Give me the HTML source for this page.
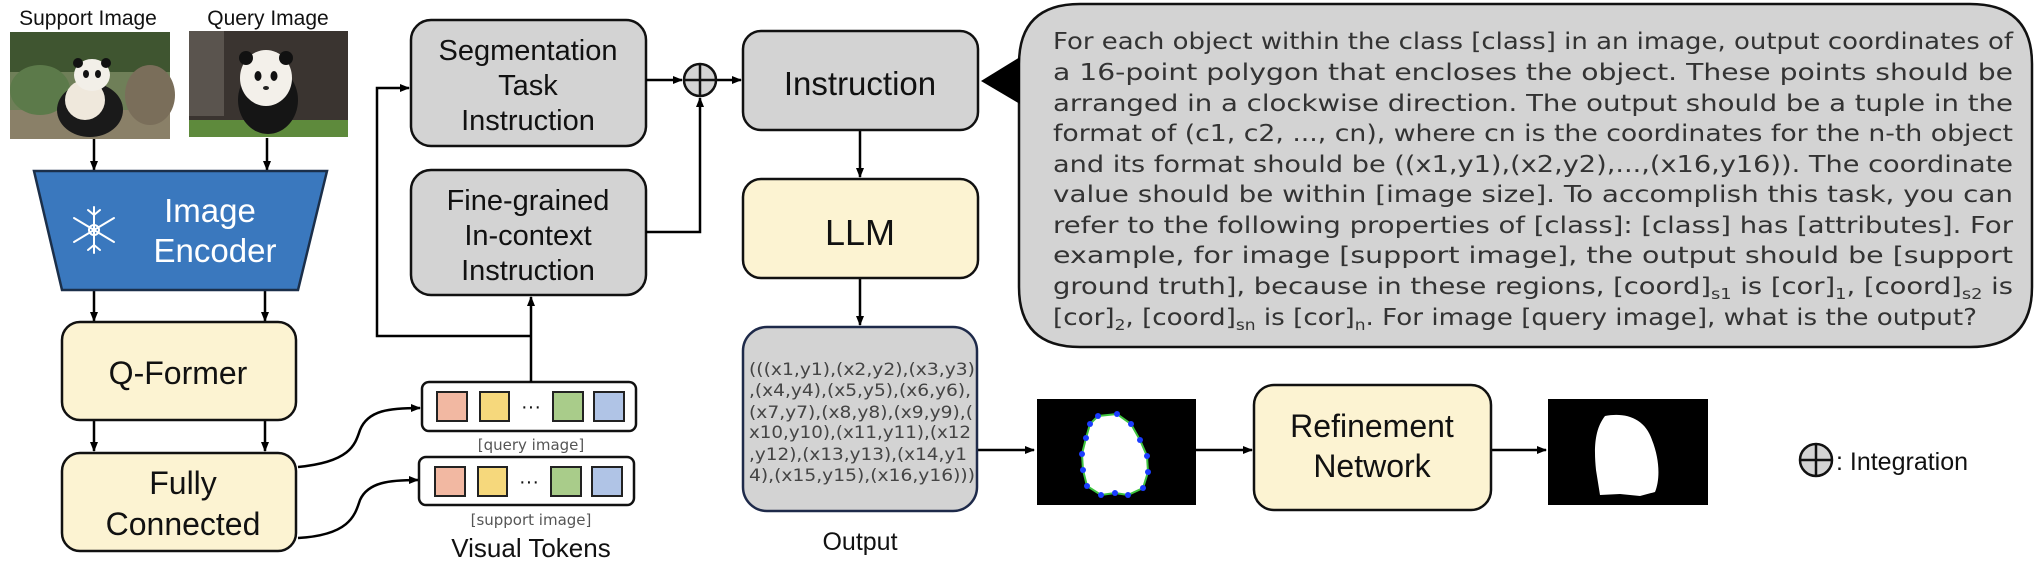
<!DOCTYPE html>
<html><head><meta charset="utf-8"><style>
html,body{margin:0;padding:0;background:#fff;}
svg{display:block;}
.l{font-family:"Liberation Sans",Arial,sans-serif;fill:#111;}
.v{font-family:"DejaVu Sans",Verdana,sans-serif;}
</style></head><body>
<svg width="2040" height="564" viewBox="0 0 2040 564" xmlns="http://www.w3.org/2000/svg">
<defs>
<marker id="ah" markerWidth="10" markerHeight="10" refX="9" refY="5" orient="auto" markerUnits="userSpaceOnUse">
<path d="M0,1 L10,5 L0,9 z" fill="#000"/></marker>
</defs>

<text class="l" x="88" y="25" font-size="21" text-anchor="middle">Support Image</text>
<text class="l" x="268" y="25" font-size="21" text-anchor="middle">Query Image</text>

<g>
<rect x="10" y="32" width="160" height="107" fill="#6f7f58"/>
<rect x="10" y="32" width="160" height="40" fill="#3f5530"/>
<rect x="10" y="110" width="160" height="29" fill="#8a8068"/>
<ellipse cx="40" cy="90" rx="30" ry="25" fill="#5c7a4a"/>
<ellipse cx="150" cy="95" rx="25" ry="30" fill="#7a6e5a"/>
<ellipse cx="90" cy="110" rx="33" ry="27" fill="#1a1a1a"/>
<ellipse cx="85" cy="100" rx="20" ry="20" fill="#efe8dc"/>
<ellipse cx="92" cy="75" rx="18" ry="16" fill="#f2efe8"/>
<circle cx="78" cy="63" r="5" fill="#111"/><circle cx="106" cy="63" r="5" fill="#111"/>
<ellipse cx="86" cy="74" rx="3" ry="4" fill="#111"/><ellipse cx="98" cy="74" rx="3" ry="4" fill="#111"/>
</g>
<g>
<rect x="189" y="31" width="159" height="106" fill="#3a3430"/>
<rect x="189" y="31" width="35" height="85" fill="#5a544e"/>
<rect x="189" y="120" width="159" height="17" fill="#5e8a3c"/>
<ellipse cx="268" cy="100" rx="30" ry="34" fill="#151515"/>
<ellipse cx="266" cy="78" rx="26" ry="28" fill="#f3f0ea"/>
<circle cx="246" cy="58" r="7" fill="#111"/><circle cx="286" cy="58" r="7" fill="#111"/>
<ellipse cx="258" cy="76" rx="3.5" ry="5" fill="#111"/><ellipse cx="274" cy="76" rx="3.5" ry="5" fill="#111"/>
<ellipse cx="266" cy="88" rx="3" ry="2" fill="#222"/>
</g>

<g stroke="#000" stroke-width="2.5" fill="none" marker-end="url(#ah)">
<line x1="94" y1="139" x2="94" y2="170"/>
<line x1="267" y1="138" x2="267" y2="170"/>
<line x1="94" y1="290" x2="94" y2="321"/>
<line x1="265" y1="290" x2="265" y2="321"/>
<line x1="94" y1="420" x2="94" y2="451"/>
<line x1="265" y1="420" x2="265" y2="451"/>
</g>

<polygon points="34,171 327,171 298,290 62,290" fill="#3a78be" stroke="#1b2f4a" stroke-width="2.5"/>
<g stroke="#fff" stroke-width="2" fill="none" stroke-linecap="round">
<line x1="94" y1="207" x2="94" y2="253"/>
<line x1="74" y1="218" x2="114" y2="242"/>
<line x1="74" y1="242" x2="114" y2="218"/>
<circle cx="94" cy="230" r="5"/>
<path d="M88,210 L94,215 L100,210 M88,250 L94,245 L100,250"/>
</g>
<text class="l" x="210" y="222" font-size="33" style="fill:#fff" text-anchor="middle">Image</text>
<text class="l" x="215" y="262" font-size="33" style="fill:#fff" text-anchor="middle">Encoder</text>

<rect x="62" y="322" width="234" height="98" rx="18" fill="#fcf3d2" stroke="#111" stroke-width="2.5"/>
<text class="l" x="178" y="384" font-size="32" text-anchor="middle">Q-Former</text>
<rect x="62" y="453" width="234" height="98" rx="18" fill="#fcf3d2" stroke="#111" stroke-width="2.5"/>
<text class="l" x="183" y="494" font-size="32" text-anchor="middle">Fully</text>
<text class="l" x="183" y="535" font-size="32" text-anchor="middle">Connected</text>

<g stroke="#000" stroke-width="2.5" fill="none" marker-end="url(#ah)">
<path d="M298,467 C350,462 355,445 360,430 C368,410 390,408 420,408"/>
<path d="M298,538 C350,535 355,515 360,500 C368,482 390,480 418,480"/>
</g>

<rect x="422" y="382" width="214" height="49" rx="7" fill="#fff" stroke="#111" stroke-width="2.5"/>
<rect x="437" y="392" width="30" height="29" fill="#f2b8a2" stroke="#222" stroke-width="2"/>
<rect x="480" y="392" width="29" height="29" fill="#f6d87c" stroke="#222" stroke-width="2"/>
<text class="l" x="531" y="413" font-size="20" text-anchor="middle">···</text>
<rect x="553" y="392" width="30" height="29" fill="#a9cc8a" stroke="#222" stroke-width="2"/>
<rect x="594" y="392" width="30" height="29" fill="#b0c4e6" stroke="#222" stroke-width="2"/>
<text class="v" x="531" y="450" font-size="15" fill="#555" text-anchor="middle">[query image]</text>

<rect x="419" y="457" width="215" height="48" rx="7" fill="#fff" stroke="#111" stroke-width="2.5"/>
<rect x="435" y="467" width="30" height="29" fill="#f2b8a2" stroke="#222" stroke-width="2"/>
<rect x="478" y="467" width="29" height="29" fill="#f6d87c" stroke="#222" stroke-width="2"/>
<text class="l" x="529" y="488" font-size="20" text-anchor="middle">···</text>
<rect x="551" y="467" width="30" height="29" fill="#a9cc8a" stroke="#222" stroke-width="2"/>
<rect x="592" y="467" width="30" height="29" fill="#b0c4e6" stroke="#222" stroke-width="2"/>
<text class="v" x="531" y="525" font-size="15" fill="#555" text-anchor="middle">[support image]</text>
<text class="l" x="531" y="557" font-size="26" text-anchor="middle">Visual Tokens</text>

<rect x="411" y="20" width="235" height="126" rx="20" fill="#d3d3d3" stroke="#111" stroke-width="2.5"/>
<text class="l" x="528" y="60" font-size="29" text-anchor="middle">Segmentation</text>
<text class="l" x="528" y="95" font-size="29" text-anchor="middle">Task</text>
<text class="l" x="528" y="130" font-size="29" text-anchor="middle">Instruction</text>
<rect x="411" y="170" width="235" height="125" rx="20" fill="#d3d3d3" stroke="#111" stroke-width="2.5"/>
<text class="l" x="528" y="210" font-size="29" text-anchor="middle">Fine-grained</text>
<text class="l" x="528" y="245" font-size="29" text-anchor="middle">In-context</text>
<text class="l" x="528" y="280" font-size="29" text-anchor="middle">Instruction</text>

<g stroke="#000" stroke-width="2.5" fill="none">
<line x1="531" y1="382" x2="531" y2="297" marker-end="url(#ah)"/>
<polyline points="531,336 377,336 377,88 409,88" marker-end="url(#ah)"/>
<line x1="646" y1="80" x2="682" y2="80" marker-end="url(#ah)"/>
<polyline points="646,232 700,232 700,98" marker-end="url(#ah)"/>
<line x1="716" y1="80" x2="741" y2="80" marker-end="url(#ah)"/>
<line x1="860" y1="130" x2="860" y2="177" marker-end="url(#ah)"/>
<line x1="860" y1="278" x2="860" y2="325" marker-end="url(#ah)"/>
<line x1="977" y1="450" x2="1034" y2="450" marker-end="url(#ah)"/>
<line x1="1196" y1="450" x2="1252" y2="450" marker-end="url(#ah)"/>
<line x1="1491" y1="450" x2="1546" y2="450" marker-end="url(#ah)"/>
</g>
<circle cx="700" cy="80" r="16" fill="#d3d3d3" stroke="#111" stroke-width="2.5"/>
<line x1="684" y1="80" x2="716" y2="80" stroke="#111" stroke-width="2.5"/>
<line x1="700" y1="64" x2="700" y2="96" stroke="#111" stroke-width="2.5"/>

<rect x="743" y="31" width="235" height="99" rx="18" fill="#d3d3d3" stroke="#111" stroke-width="2.5"/>
<text class="l" x="860" y="95" font-size="33" text-anchor="middle">Instruction</text>
<rect x="743" y="179" width="235" height="99" rx="18" fill="#fcf3d2" stroke="#111" stroke-width="2.5"/>
<text class="l" x="860" y="245" font-size="36" text-anchor="middle">LLM</text>

<rect x="743" y="327" width="234" height="184" rx="24" fill="#d3d3d3" stroke="#1e2a4a" stroke-width="2.5"/>
<g font-family="DejaVu Sans, Verdana, sans-serif" font-size="16.5" fill="#444">
<text x="749" y="375" textLength="226" lengthAdjust="spacingAndGlyphs">(((x1,y1),(x2,y2),(x3,y3)</text>
<text x="749" y="396" textLength="222" lengthAdjust="spacingAndGlyphs">,(x4,y4),(x5,y5),(x6,y6),</text>
<text x="749" y="418" textLength="224" lengthAdjust="spacingAndGlyphs">(x7,y7),(x8,y8),(x9,y9),(</text>
<text x="749" y="438" textLength="222" lengthAdjust="spacingAndGlyphs">x10,y10),(x11,y11),(x12</text>
<text x="749" y="460" textLength="218" lengthAdjust="spacingAndGlyphs">,y12),(x13,y13),(x14,y1</text>
<text x="749" y="481" textLength="226" lengthAdjust="spacingAndGlyphs">4),(x15,y15),(x16,y16)))</text>
</g>
<text class="l" x="860" y="550" font-size="25" text-anchor="middle">Output</text>

<rect x="1037" y="399" width="159" height="106" fill="#000"/>
<polygon points="1098,416 1117,414 1131,424 1140,440 1147,456 1148,472 1143,488 1128,495 1115,493 1101,495 1087,486 1083,470 1082,454 1086,438 1090,424" fill="#fff" stroke="#3ec43e" stroke-width="2"/>
<g fill="#1a3cff">
<circle cx="1098" cy="416" r="3"/><circle cx="1117" cy="414" r="3"/><circle cx="1131" cy="424" r="3"/><circle cx="1140" cy="440" r="3"/><circle cx="1147" cy="456" r="3"/><circle cx="1148" cy="472" r="3"/><circle cx="1143" cy="488" r="3"/><circle cx="1128" cy="495" r="3"/><circle cx="1115" cy="493" r="3"/><circle cx="1101" cy="495" r="3"/><circle cx="1087" cy="486" r="3"/><circle cx="1083" cy="470" r="3"/><circle cx="1082" cy="454" r="3"/><circle cx="1086" cy="438" r="3"/><circle cx="1090" cy="424" r="3"/></g>

<rect x="1254" y="385" width="237" height="125" rx="20" fill="#fcf3d2" stroke="#111" stroke-width="2.5"/>
<text class="l" x="1372" y="437" font-size="32" text-anchor="middle">Refinement</text>
<text class="l" x="1372" y="477" font-size="32" text-anchor="middle">Network</text>

<rect x="1548" y="399" width="160" height="106" fill="#000"/>
<path d="M1605,416 C1625,412 1645,418 1652,440 C1660,460 1660,480 1655,492 L1640,496 L1620,494 L1600,495 L1596,470 C1594,450 1594,430 1605,416 Z" fill="#fff"/>

<circle cx="1816" cy="460" r="16" fill="#d3d3d3" stroke="#111" stroke-width="2.5"/>
<line x1="1800" y1="460" x2="1832" y2="460" stroke="#111" stroke-width="2.5"/>
<line x1="1816" y1="444" x2="1816" y2="476" stroke="#111" stroke-width="2.5"/>
<text class="l" x="1836" y="470" font-size="25">: Integration</text>

<path d="M1080,4 L1970,4 Q2032,4 2032,64 L2032,287 Q2032,347 1970,347 L1080,347 Q1019,347 1019,287 L1019,64 Q1019,4 1080,4 Z" fill="#d3d3d3" stroke="#111" stroke-width="2.5"/>
<polygon points="981,81 1020,57 1020,104" fill="#000"/>
<g font-family="DejaVu Sans, Verdana, sans-serif" font-size="23" fill="#333">
<text x="1053" y="49" textLength="960" lengthAdjust="spacingAndGlyphs">For each object within the class [class] in an image, output coordinates of</text>
<text x="1053" y="80" textLength="960" lengthAdjust="spacingAndGlyphs">a 16-point polygon that encloses the object. These points should be</text>
<text x="1053" y="111" textLength="960" lengthAdjust="spacingAndGlyphs">arranged in a clockwise direction. The output should be a tuple in the</text>
<text x="1053" y="141" textLength="960" lengthAdjust="spacingAndGlyphs">format of (c1, c2, ..., cn), where cn is the coordinates for the n-th object</text>
<text x="1053" y="172" textLength="960" lengthAdjust="spacingAndGlyphs">and its format should be ((x1,y1),(x2,y2),...,(x16,y16)). The coordinate</text>
<text x="1053" y="202" textLength="960" lengthAdjust="spacingAndGlyphs">value should be within [image size]. To accomplish this task, you can</text>
<text x="1053" y="233" textLength="960" lengthAdjust="spacingAndGlyphs">refer to the following properties of [class]: [class] has [attributes]. For</text>
<text x="1053" y="263" textLength="960" lengthAdjust="spacingAndGlyphs">example, for image [support image], the output should be [support</text>
<text x="1053" y="294" textLength="960" lengthAdjust="spacingAndGlyphs">ground truth], because in these regions, [coord]<tspan font-size="15" dy="5">s1</tspan><tspan dy="-5"> is [cor]</tspan><tspan font-size="15" dy="5">1</tspan><tspan dy="-5">, [coord]</tspan><tspan font-size="15" dy="5">s2</tspan><tspan dy="-5"> is</tspan></text>
<text x="1053" y="325" textLength="924" lengthAdjust="spacingAndGlyphs">[cor]<tspan font-size="15" dy="5">2</tspan><tspan dy="-5">, [coord]</tspan><tspan font-size="15" dy="5">sn</tspan><tspan dy="-5"> is [cor]</tspan><tspan font-size="15" dy="5">n</tspan><tspan dy="-5">. For image [query image], what is the output?</tspan></text>
</g>
</svg>
</body></html>
